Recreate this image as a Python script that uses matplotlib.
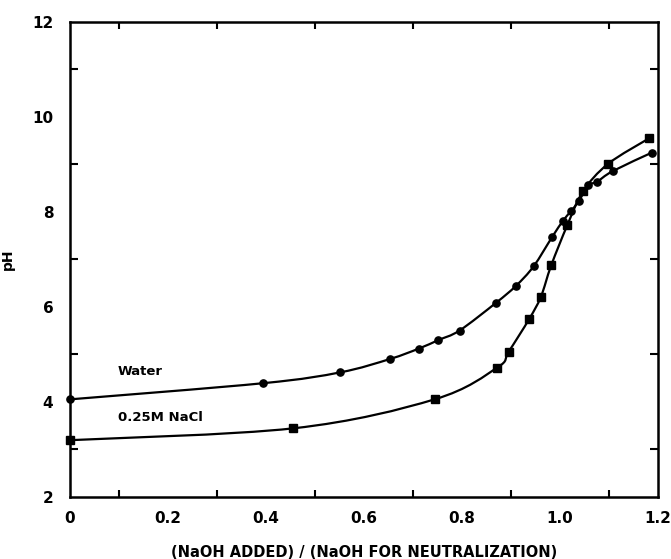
import numpy as np
import matplotlib
matplotlib.use('Agg')
import matplotlib.pyplot as plt
from matplotlib.path import Path
from matplotlib.patches import PathPatch
from matplotlib.ticker import MultipleLocator, FixedLocator, FuncFormatter

# titration of the acid in water and in 0.25M NaCl
water_x = [0.0, 0.394, 0.552, 0.653, 0.712, 0.752, 0.795, 0.869, 0.910, 0.946,
           0.984, 1.006, 1.022, 1.038, 1.058, 1.075, 1.108, 1.188]
water_ph = [4.05, 4.39, 4.62, 4.90, 5.12, 5.30, 5.50, 6.08, 6.44, 6.85,
            7.47, 7.81, 8.01, 8.22, 8.56, 8.63, 8.86, 9.25]

nacl_x = [0.0, 0.456, 0.744, 0.872, 0.895, 0.937, 0.961, 0.982, 1.015, 1.047,
          1.098, 1.182]
nacl_ph = [3.19, 3.44, 4.05, 4.72, 5.05, 5.74, 6.21, 6.87, 7.72, 8.43,
           9.01, 9.55]

x_ticks = [0, 0.2, 0.4, 0.6, 0.8, 1.0, 1.2]
y_ticks = [2, 4, 6, 8, 10, 12]

font = {'family': 'DejaVu Sans', 'weight': 'bold'}


def smooth_path(xs, ys):
    # Catmull-Rom through the points, written as cubic Bezier segments
    pts = np.column_stack([xs, ys])
    ext = np.vstack([pts[0], pts, pts[-1]])
    verts = [pts[0]]
    codes = [Path.MOVETO]
    for i in range(1, len(ext) - 2):
        p0, p1, p2, p3 = ext[i - 1], ext[i], ext[i + 1], ext[i + 2]
        verts += [p1 + (p2 - p0) / 6, p2 - (p3 - p1) / 6, p2]
        codes += [Path.CURVE4] * 3
    return Path(verts, codes)


fig = plt.figure(figsize=(6.71, 5.59), dpi=100)
ax = fig.add_axes([0.1043, 0.1115, 0.8763, 0.8492])

for xs, ys, mk in [(water_x, water_ph, 'o'), (nacl_x, nacl_ph, 's')]:
    ax.add_patch(PathPatch(smooth_path(xs, ys), facecolor='none',
                           edgecolor='black', lw=1.6, clip_on=False))
    ax.plot(xs, ys, linestyle='none', marker=mk, ms=5.2, color='black',
            clip_on=False, zorder=3)

ax.text(0.098, 4.63, 'Water', fontsize=9.5, va='center', ha='left', **font)
ax.text(0.098, 3.66, '0.25M NaCl', fontsize=9.5, va='center', ha='left', **font)

ax.set_xlim(0, 1.2)
ax.set_ylim(2, 12)
ax.xaxis.set_major_locator(FixedLocator(x_ticks))
ax.xaxis.set_minor_locator(MultipleLocator(0.1))
ax.yaxis.set_major_locator(FixedLocator(y_ticks))
ax.yaxis.set_minor_locator(MultipleLocator(1))
ax.xaxis.set_major_formatter(FuncFormatter(lambda v, p: '0' if v == 0 else f'{v:.1f}'))

ax.tick_params(which='both', direction='in', top=True, right=True, width=1.5)
ax.tick_params(axis='x', which='major', length=0, pad=10)
ax.tick_params(axis='x', which='minor', length=5)
ax.tick_params(axis='y', which='major', length=0, pad=12)
ax.tick_params(axis='y', which='minor', length=6)
for lbl in ax.get_xticklabels() + ax.get_yticklabels():
    lbl.set_fontsize(11)
    lbl.set_fontweight('bold')
for sp in ax.spines.values():
    sp.set_linewidth(1.8)

ax.set_xlabel('(NaOH ADDED) / (NaOH FOR NEUTRALIZATION)', fontsize=10.5, labelpad=14, **font)
ax.set_ylabel('pH', fontsize=10, **font)
ax.yaxis.set_label_coords(-0.094, 0.5)

fig.savefig('out.png', dpi=100)
